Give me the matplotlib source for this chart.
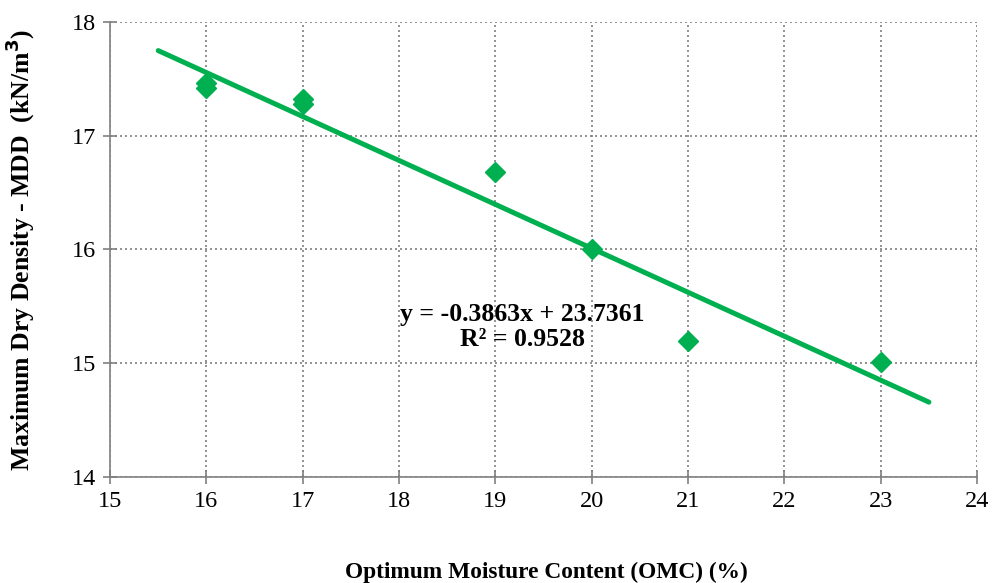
import numpy as np
import matplotlib.pyplot as plt

plt.rcParams['font.family'] = ['Liberation Serif', 'DejaVu Serif']

# measured points
omc = [16, 16, 17, 17, 19, 20, 21, 23]
mdd = [17.46, 17.42, 17.32, 17.28, 16.68, 16.00, 15.20, 15.01]

# trendline reported in the chart
slope = -0.3863
intercept = 23.7361
trend_x = [15.5, 23.5]

green = '#00B050'
gray = '#808080'

fig = plt.figure(figsize=(9.95, 5.83), dpi=100)
ax = fig.add_axes([0.1106, 0.1818, 0.8714, 0.7805])

tx = np.array(trend_x)
ax.plot(tx, slope * tx + intercept, color=green, lw=3.6, solid_capstyle='round', zorder=2)
ax.plot(omc, mdd, linestyle='none', marker='D', ms=10.5, color=green, zorder=3)

ax.set_xlim(15, 24)
ax.set_ylim(14, 18)
ax.set_xticks(range(15, 25))
ax.set_yticks(range(14, 19))
ax.grid(True, color=gray, linestyle=(0, (1.2, 1.8)), linewidth=1.2)
ax.set_axisbelow(True)

for s in ['top', 'right']:
    ax.spines[s].set_visible(False)
for s in ['left', 'bottom']:
    ax.spines[s].set_color(gray)
    ax.spines[s].set_linewidth(1.2)
ax.tick_params(direction='inout', color=gray, length=10, width=1.2, labelsize=17.5, pad=5)

ax.set_xlabel('Optimum Moisture Content (OMC) (%)', fontsize=16.8, fontweight='bold')
ax.xaxis.set_label_coords(0.503, -0.187)
ax.set_ylabel('Maximum Dry Density - MDD  (kN/m$^\\mathbf{3}$)', fontsize=18.5, fontweight='bold')
ax.yaxis.set_label_coords(-0.084, 0.5)

ax.text(19.28, 15.32, 'y = -0.3863x + 23.7361\nR² = 0.9528', ha='center', va='center',
        fontsize=18.5, fontweight='bold', linespacing=1.1)

fig.savefig('out.png', dpi=100)
